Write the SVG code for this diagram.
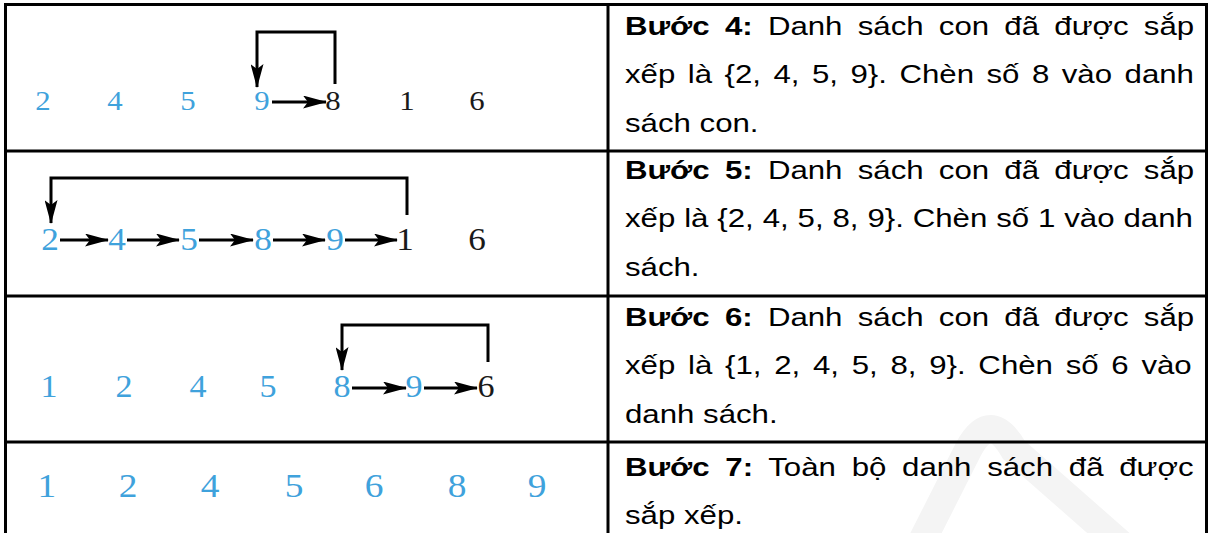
<svg xmlns="http://www.w3.org/2000/svg" width="1210" height="533" viewBox="0 0 1210 533">
<defs>
<style>
.grid{fill:none;stroke:#000;stroke-width:3}
.d{font-family:"Liberation Serif","Times New Roman",serif;text-anchor:middle}
.b{fill:#3fa2dc}
.k{fill:#1a1a1a}
.t{font-family:"Liberation Sans",Arial,sans-serif;font-size:26px;fill:#000}
.bold{font-weight:bold}
.c{fill:none;stroke:#000;stroke-width:3}
</style>
<marker id="ah" viewBox="0 0 24 13" refX="23" refY="6.5" markerWidth="24" markerHeight="13" markerUnits="userSpaceOnUse" orient="auto">
<path d="M0,0 L24,6.5 L0,13 L5,6.5 z" fill="#000"/>
</marker>
</defs>
<rect width="1210" height="533" fill="#fff"/>
<path d="M920,545 L968,450 Q990,408 1014,450 L1122,545" fill="none" stroke="#f4f4f4" stroke-width="28"/>
<g id="table">
<rect class="grid" x="5.5" y="4.5" width="1201" height="540"/>
<line class="grid" x1="608" y1="4" x2="608" y2="533"/>
<line class="grid" x1="5" y1="151" x2="1207" y2="151"/>
<line class="grid" x1="5" y1="296" x2="1207" y2="296"/>
<line class="grid" x1="5" y1="442" x2="1207" y2="442"/>
</g>
<g id="row1">
<g font-size="28px" class="d" transform="scale(1.1,1)">
<text x="39.1" y="110" class="b">2</text>
<text x="104.5" y="110" class="b">4</text>
<text x="170.9" y="110" class="b">5</text>
<text x="238.2" y="110" class="b">9</text>
<text x="302.7" y="110" class="k">8</text>
<text x="370" y="110" class="k">1</text>
<text x="433.6" y="110" class="k">6</text>
</g>
</g>
<g id="row2">
<g font-size="32px" class="d" transform="scale(1.1,1)">
<text x="45.5" y="250" class="b">2</text>
<text x="106.4" y="250" class="b">4</text>
<text x="171.8" y="250" class="b">5</text>
<text x="239.1" y="250" class="b">8</text>
<text x="304.5" y="250" class="b">9</text>
<text x="368.2" y="250" class="k">1</text>
<text x="433.6" y="250" class="k">6</text>
</g>
</g>
<g id="row3">
<g font-size="31px" class="d" transform="scale(1.1,1)">
<text x="44.5" y="397" class="b">1</text>
<text x="112.7" y="397" class="b">2</text>
<text x="180" y="397" class="b">4</text>
<text x="243.6" y="397" class="b">5</text>
<text x="310.9" y="397" class="b">8</text>
<text x="376.4" y="397" class="b">9</text>
<text x="441.8" y="397" class="k">6</text>
</g>
</g>
<g id="row4">
<g font-size="34px" class="d" transform="scale(1.1,1)">
<text x="42.7" y="497" class="b">1</text>
<text x="116.4" y="497" class="b">2</text>
<text x="190.9" y="497" class="b">4</text>
<text x="267.3" y="497" class="b">5</text>
<text x="340" y="497" class="b">6</text>
<text x="415.5" y="497" class="b">8</text>
<text x="488.2" y="497" class="b">9</text>
</g>
</g>
<g id="connectors">
<line class="c" x1="272" y1="102" x2="326" y2="102" marker-end="url(#ah)"/>
<polyline class="c" points="335,84 335,32 257,32 257,87" marker-end="url(#ah)"/>
<line class="c" x1="60" y1="240" x2="108" y2="240" marker-end="url(#ah)"/>
<line class="c" x1="127" y1="240" x2="179" y2="240" marker-end="url(#ah)"/>
<line class="c" x1="199" y1="240" x2="253" y2="240" marker-end="url(#ah)"/>
<line class="c" x1="273" y1="240" x2="325" y2="240" marker-end="url(#ah)"/>
<line class="c" x1="345" y1="240" x2="397" y2="240" marker-end="url(#ah)"/>
<polyline class="c" points="407,215 407,178 51,178 51,223" marker-end="url(#ah)"/>
<line class="c" x1="352" y1="388" x2="406" y2="388" marker-end="url(#ah)"/>
<line class="c" x1="424" y1="388" x2="477" y2="388" marker-end="url(#ah)"/>
<polyline class="c" points="488,362 488,325 342,325 342,370" marker-end="url(#ah)"/>
</g>
<g id="text1" transform="translate(625,0) scale(1.2,1)">
<text class="t" x="0" y="35" word-spacing="5.5"><tspan class="bold">Bước 4:</tspan> Danh sách con đã được sắp</text>
<text class="t" x="0" y="83.5" word-spacing="3.2">xếp là {2, 4, 5, 9}. Chèn số 8 vào danh</text>
<text class="t" x="0" y="132">sách con.</text>
</g>
<g id="text2" transform="translate(625,0) scale(1.2,1)">
<text class="t" x="0" y="179" word-spacing="5.5"><tspan class="bold">Bước 5:</tspan> Danh sách con đã được sắp</text>
<text class="t" x="0" y="227.5" word-spacing="0.2">xếp là {2, 4, 5, 8, 9}. Chèn số 1 vào danh</text>
<text class="t" x="0" y="276">sách.</text>
</g>
<g id="text3" transform="translate(625,0) scale(1.2,1)">
<text class="t" x="0" y="326" word-spacing="5.5"><tspan class="bold">Bước 6:</tspan> Danh sách con đã được sắp</text>
<text class="t" x="0" y="374.5" word-spacing="3.4">xếp là {1, 2, 4, 5, 8, 9}. Chèn số 6 vào</text>
<text class="t" x="0" y="423">danh sách.</text>
</g>
<g id="text4" transform="translate(625,0) scale(1.2,1)">
<text class="t" x="0" y="476" word-spacing="5.9"><tspan class="bold">Bước 7:</tspan> Toàn bộ danh sách đã được</text>
<text class="t" x="0" y="524">sắp xếp.</text>
</g>
</svg>
